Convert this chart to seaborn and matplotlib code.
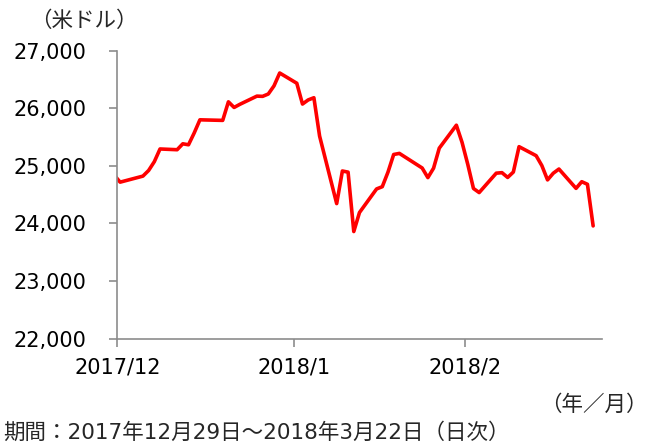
import matplotlib
matplotlib.use('Agg')
import matplotlib.pyplot as plt
import matplotlib.ticker as mticker
import seaborn as sns
import pandas as pd

dates = [
    '2017-12-28', '2017-12-29',
    '2018-01-02', '2018-01-03', '2018-01-04', '2018-01-05', '2018-01-08', '2018-01-09',
    '2018-01-10', '2018-01-11', '2018-01-12', '2018-01-16', '2018-01-17', '2018-01-18',
    '2018-01-19', '2018-01-22', '2018-01-23', '2018-01-24', '2018-01-25', '2018-01-26',
    '2018-01-29', '2018-01-30', '2018-01-31',
    '2018-02-01', '2018-02-02', '2018-02-05', '2018-02-06', '2018-02-07', '2018-02-08',
    '2018-02-09', '2018-02-12', '2018-02-13', '2018-02-14', '2018-02-15', '2018-02-16',
    '2018-02-20', '2018-02-21', '2018-02-22', '2018-02-23', '2018-02-26', '2018-02-27',
    '2018-02-28',
    '2018-03-01', '2018-03-02', '2018-03-05', '2018-03-06', '2018-03-07', '2018-03-08',
    '2018-03-09', '2018-03-12', '2018-03-13', '2018-03-14', '2018-03-15', '2018-03-16',
    '2018-03-19', '2018-03-20', '2018-03-21', '2018-03-22',
]
values = [
    24837, 24719,
    24824, 24922, 25075, 25296, 25283, 25386,
    25369, 25575, 25803, 25793, 26116, 26018,
    26072, 26215, 26211, 26252, 26393, 26617,
    26439, 26077, 26149,
    26187, 25521, 24346, 24913, 24893, 23860,
    24191, 24601, 24640, 24893, 25200, 25219,
    24965, 24798, 24962, 25310, 25709, 25410,
    25029,
    24609, 24538, 24875, 24884, 24801, 24895,
    25336, 25179, 25007, 24758, 24874, 24947,
    24611, 24727, 24682, 23958,
]

x_ticks = ['2017-12-28 12:00', '2018-01-28 12:00', '2018-02-27 12:00']
x_tick_labels = ['2017/12', '2018/1', '2018/2']
x_range = ['2017-12-28 12:00', '2018-03-23 12:00']
y_ticks = [22000, 23000, 24000, 25000, 26000, 27000]

df = pd.DataFrame({'date': pd.to_datetime(dates), 'value': values})

sns.set_style('white')
plt.rcParams['font.family'] = ['DejaVu Sans', 'Noto Sans CJK JP']

fig = plt.figure(figsize=(6.49, 4.48), dpi=100)
ax = fig.add_axes([0.1807, 0.2444, 0.7464, 0.6418])

sns.lineplot(data=df, x='date', y='value', ax=ax, color='#FF0000', linewidth=2.6)

ax.set_xlim(pd.to_datetime(x_range[0]), pd.to_datetime(x_range[1]))
ax.set_ylim(y_ticks[0], y_ticks[-1])
ax.set_yticks(y_ticks)
ax.yaxis.set_major_formatter(mticker.FuncFormatter(lambda v, p: f'{int(v):,}'))
ax.set_xticks(pd.to_datetime(x_ticks))
ax.set_xticklabels(x_tick_labels)
ax.set_xlabel('')
ax.set_ylabel('')

gray = '#8c8c8c'
for s in ['top', 'right']:
    ax.spines[s].set_visible(False)
for s in ['left', 'bottom']:
    ax.spines[s].set_color(gray)
    ax.spines[s].set_linewidth(1.2)

ax.tick_params(axis='y', direction='out', length=5.5, width=1.2, color=gray,
               pad=17, labelsize=15, labelcolor='black', left=True)
ax.tick_params(axis='x', direction='out', length=5.8, width=1.2, color=gray,
               pad=8, labelsize=15, labelcolor='black', bottom=True)

fig.text(30 / 649, 1 - 21 / 448, '（米ドル）', ha='left', va='center', fontsize=15.5)
fig.text(648 / 649, 1 - 405 / 448, '（年／月）', ha='right', va='center', fontsize=15.5)
fig.text(3 / 649, 1 - 433 / 448, '期間：2017年12月29日～2018年3月22日（日次）',
         ha='left', va='center', fontsize=15.5)

fig.savefig('out.png', dpi=100)
